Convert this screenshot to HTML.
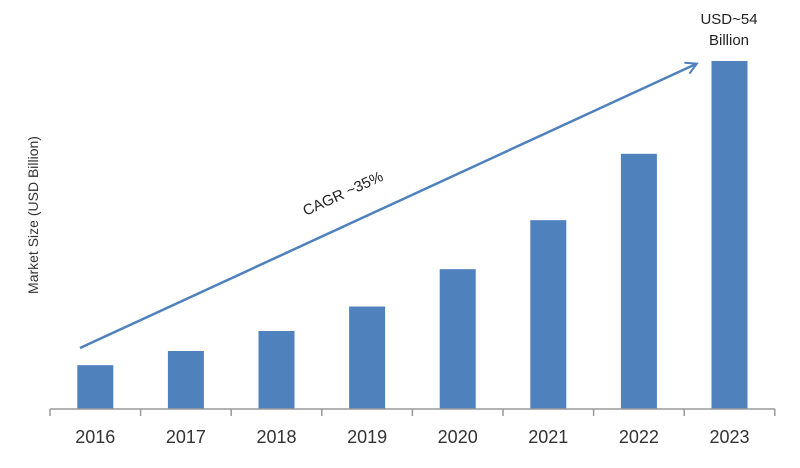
<!DOCTYPE html>
<html><head><meta charset="utf-8"><style>
body{margin:0;background:#fff;}
svg{display:block;font-family:"Liberation Sans",sans-serif;}
</style></head><body>
<svg width="800" height="468">
<g id="bars"></g>
<line x1="50" y1="409" x2="775" y2="409" stroke="#999" stroke-width="1.5"/>
<g id="ticks"></g>
<text x="38" y="215" transform="rotate(-90 38 215)" text-anchor="middle" font-size="14" fill="#333">Market Size (USD Billion)</text>
<defs><marker id="ah" markerWidth="14" markerHeight="14" refX="11" refY="7" orient="auto" markerUnits="userSpaceOnUse"><path d="M1,1 L12,7 L1,13" fill="none" stroke="#4f81bd" stroke-width="2"/></marker></defs>
<line x1="80" y1="348" x2="696" y2="64" stroke="#4f81bd" stroke-width="2.5" marker-end="url(#ah)"/>
<text x="345" y="198" transform="rotate(-24.7 345 198)" text-anchor="middle" font-size="15" fill="#222">CAGR ~35%</text>
<text x="729" y="24" text-anchor="middle" font-size="15" fill="#222">USD~54</text>
<text x="729" y="45" text-anchor="middle" font-size="15" fill="#222">Billion</text>
</svg>
<script>
const categories=["2016","2017","2018","2019","2020","2021","2022","2023"];
const values=[6.8,9.0,12.1,15.9,21.7,29.3,39.6,54];
const yMax=54;
const x0=50,step=90.6,base=409,topY=61,barW=36;
function xc(i){return x0+step*(i+0.5);}
function y(v){return base-(base-topY)*v/yMax;}
const ns="http://www.w3.org/2000/svg";
const gb=document.getElementById('bars'),gt=document.getElementById('ticks');
categories.forEach((c,i)=>{
 const r=document.createElementNS(ns,'rect');
 r.setAttribute('x',xc(i)-barW/2);r.setAttribute('y',y(values[i]));
 r.setAttribute('width',barW);r.setAttribute('height',base-y(values[i]));
 r.setAttribute('fill','#4f81bd');
 
 
 gb.appendChild(r);
 const t=document.createElementNS(ns,'text');
 t.setAttribute('x',xc(i));t.setAttribute('y',443);t.setAttribute('text-anchor','middle');
 t.setAttribute('font-size','18');t.setAttribute('fill','#333');
 t.textContent=c;
 
 
 gt.appendChild(t);
});
for(let i=0;i<=categories.length;i++){
 const l=document.createElementNS(ns,'line');
 const xx=x0+step*i;
 l.setAttribute('x1',xx);l.setAttribute('x2',xx);l.setAttribute('y1',409);l.setAttribute('y2',416);
 l.setAttribute('stroke','#999');l.setAttribute('stroke-width','1.5');
 
 
 gt.appendChild(l);
}
</script>
</body></html>
